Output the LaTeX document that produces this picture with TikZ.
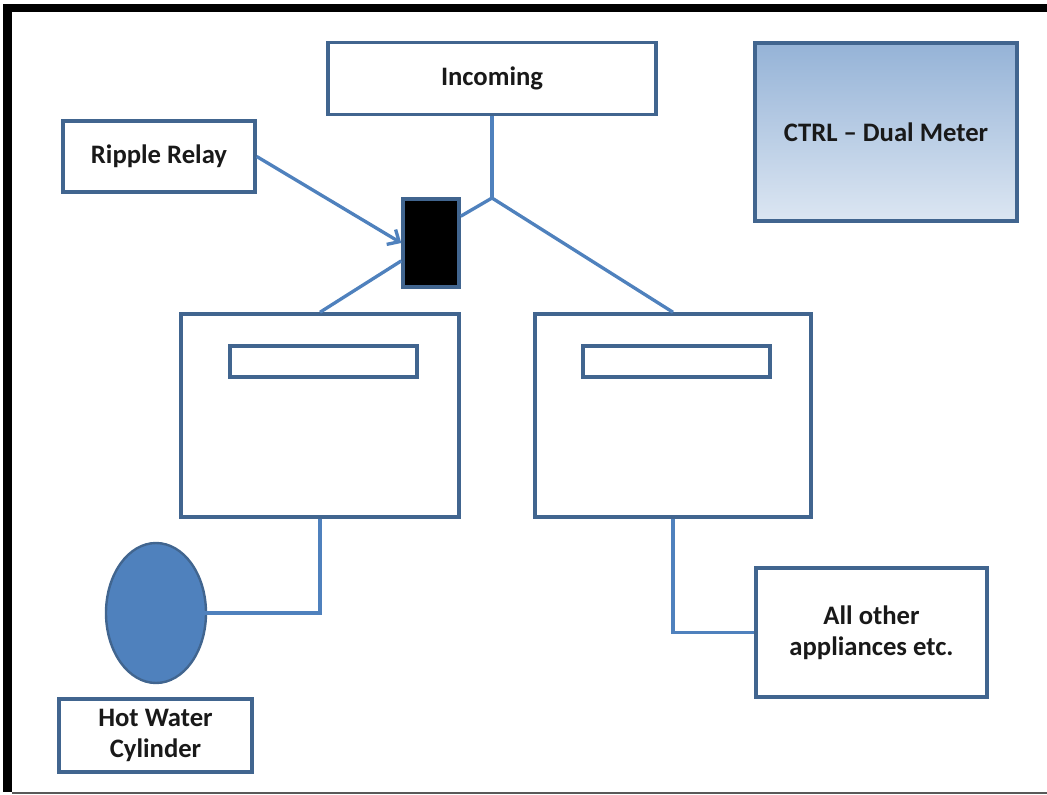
\documentclass[tikz,border=0pt]{standalone}
\usepackage{fontspec}
\setmainfont{Carlito}
\usepackage{tikz}
\usetikzlibrary{shapes.geometric,arrows.meta}

\definecolor{linkblue}{HTML}{4F81BD}
\definecolor{edgeblue}{HTML}{41658F}
\definecolor{ctrltop}{HTML}{95B3D7}
\definecolor{ctrlbot}{HTML}{DCE6F2}

\tikzset{
  box/.style={draw=edgeblue, line width=2.6pt, fill=white, rectangle, align=center,
    font=\fontsize{20}{23.5}\selectfont\bfseries, text=black!90},
  wire/.style={draw=linkblue, line width=2.5pt}
}

\begin{document}
\begin{tikzpicture}[x=0.75pt,y=0.75pt,yscale=-1,xscale=1]
\useasboundingbox (0,0) rectangle (1047,795);

%Shape: Frame
\fill [black] (3,4) rectangle (12,792);
\fill [black] (3,4) rectangle (1047,12);
\draw [black!65, line width=1.2pt] (12,793) -- (1047,793);

%Shape: Rectangle [incoming]
\node [box, minimum width=246pt, minimum height=54pt] (incoming) at (492,78.5) {Incoming};
%Shape: Rectangle [ripple]
\node [box, minimum width=144pt, minimum height=53.25pt] (ripple) at (159,156.5) {Ripple Relay};
%Shape: Rectangle [ctrl]
\node [box, top color=ctrltop, bottom color=ctrlbot, minimum width=196.5pt, minimum height=133.5pt] (ctrl) at (886,132) {CTRL – Dual Meter};
%Shape: Rectangle [relay]
\node [box, fill=black, minimum width=42pt, minimum height=66pt] (relay) at (431,243) {};

%Shape: Meter left
\node [box, minimum width=208.5pt, minimum height=152.25pt] (meterL) at (320,415.5) {};
\node [box, minimum width=140.25pt, minimum height=23.25pt] (dispL) at (323.5,361.5) {};
%Shape: Meter right
\node [box, minimum width=207pt, minimum height=152.25pt] (meterR) at (673,415.5) {};
\node [box, minimum width=140.25pt, minimum height=23.25pt] (dispR) at (676.5,361.5) {};

%Shape: Ellipse [cyl]
\node [ellipse, draw=edgeblue, fill=linkblue, line width=1.8pt, minimum width=75pt, minimum height=105pt, inner sep=0pt] (cyl) at (156,613) {};
%Shape: Rectangle [hwc]
\node [box, minimum width=144.75pt, minimum height=54.75pt] (hwc) at (155.5,735.5) {Hot Water\\Cylinder};
%Shape: Rectangle [others]
\node [box, minimum width=173.25pt, minimum height=96.75pt] (others) at (871.5,632.5) {All other\\appliances etc.};

\coordinate (split) at (492,198);

% Connectors
\draw [wire] (incoming.south) -- (split);
\draw [wire] (split) -- (relay.42);
\draw [wire] (split) -- (meterR.north);
\draw [wire, -{Straight Barb[length=7pt,width=13pt]}] (ripple.east) -- (relay.west);
\draw [wire] (meterL.north) -- (relay.211);
\draw [wire] (meterL.south) |- (cyl.center);
\draw [wire] (meterR.south) |- (others.west);

\end{tikzpicture}
\end{document}
